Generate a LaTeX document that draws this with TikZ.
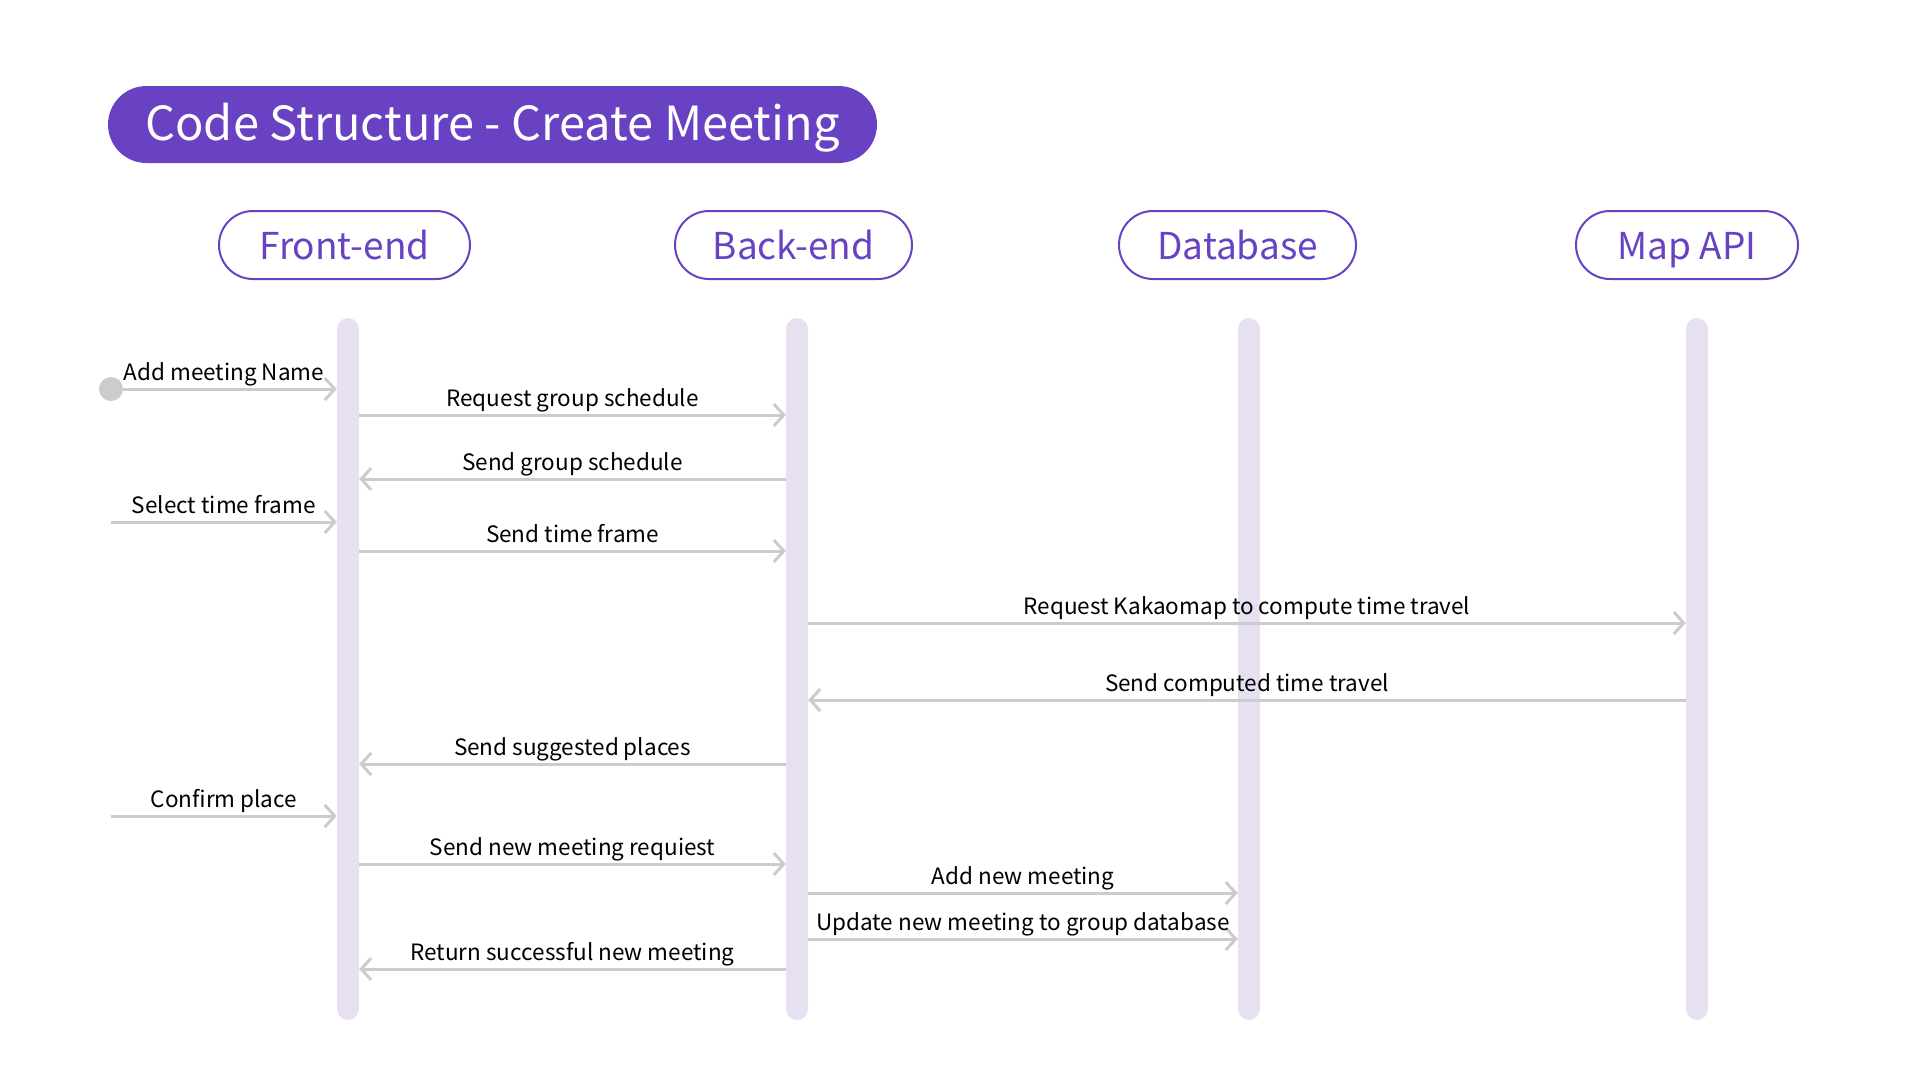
\documentclass[tikz,border=0pt]{standalone}
\usepackage{fontspec}
\setmainfont{Noto Sans CJK KR}
\usetikzlibrary{arrows.meta}

\definecolor{purp}{RGB}{104,66,194}
\definecolor{lane}{RGB}{230,224,240}
\definecolor{msggray}{RGB}{204,204,204}

\tikzset{
  banner/.style = {fill=purp, text=white, rounded corners=38.5pt, minimum width=769pt, minimum height=77pt, inner sep=0pt, text height=33pt, text depth=2pt, font=\fontsize{47}{47}\selectfont},
  actor/.style = {draw=purp, line width=2pt, text=purp, rounded corners=34pt, minimum height=68pt, inner sep=0pt, text height=30pt, text depth=0.5pt, font=\fontsize{37}{37}\selectfont},
  lifeline/.style = {fill=lane, rounded corners=11pt, minimum width=22pt, minimum height=702pt, inner sep=0pt},
  msg/.style = {draw=msggray, line width=3pt, -{Straight Barb[length=10pt,width=22pt]}},
  lbl/.style = {above, inner sep=2pt, text=black, font=\fontsize{22.5}{22.5}\selectfont, text height=17pt, text depth=5pt},
}

\begin{document}
\begin{tikzpicture}[x=1pt, y=-1pt]
\useasboundingbox (0,0) rectangle (1920,1080);

\node[banner] (head) at (492.5,124.5) {Code Structure - Create Meeting};

% participants
\node[actor, minimum width=251pt] (fehd) at (344.5,245) {Front-end};
\node[actor, minimum width=237pt] (behd) at (793.5,245) {Back-end};
\node[actor, minimum width=237pt] (dbhd) at (1237.5,245) {Database};
\node[actor, minimum width=222pt] (apihd) at (1687,245) {Map API};

% lifelines
\node[lifeline] (fe) at (348,669) {};
\node[lifeline] (be) at (797,669) {};
\node[lifeline] (db) at (1249,669) {};
\node[lifeline] (api) at (1697,669) {};

\node[circle, fill=msggray, minimum size=24pt, inner sep=0pt] (start) at (111,389) {};

% messages
\draw[msg] (start.center) -- node[lbl] {Add meeting Name} (fe.west |- 0,389);
\draw[msg] (fe.east |- 0,415) -- node[lbl] {Request group schedule} (be.west |- 0,415);
\draw[msg] (be.west |- 0,479) -- node[lbl] {Send group schedule} (fe.east |- 0,479);
\draw[msg] (start |- 0,522) -- node[lbl] {Select time frame} (fe.west |- 0,522);
\draw[msg] (fe.east |- 0,551) -- node[lbl] {Send time frame} (be.west |- 0,551);
\draw[msg] (be.east |- 0,623) -- node[lbl] {Request Kakaomap to compute time travel} (api.west |- 0,623);
\draw[msg] (api.west |- 0,700) -- node[lbl] {Send computed time travel} (be.east |- 0,700);
\draw[msg] (be.west |- 0,764) -- node[lbl] {Send suggested places} (fe.east |- 0,764);
\draw[msg] (start |- 0,816) -- node[lbl] {Confirm place} (fe.west |- 0,816);
\draw[msg] (fe.east |- 0,864) -- node[lbl] {Send new meeting requiest} (be.west |- 0,864);
\draw[msg] (be.east |- 0,893) -- node[lbl] {Add new meeting} (db.west |- 0,893);
\draw[msg] (be.east |- 0,939) -- node[lbl] {Update new meeting to group database} (db.west |- 0,939);
\draw[msg] (be.west |- 0,969) -- node[lbl] {Return successful new meeting} (fe.east |- 0,969);
\end{tikzpicture}
\end{document}
